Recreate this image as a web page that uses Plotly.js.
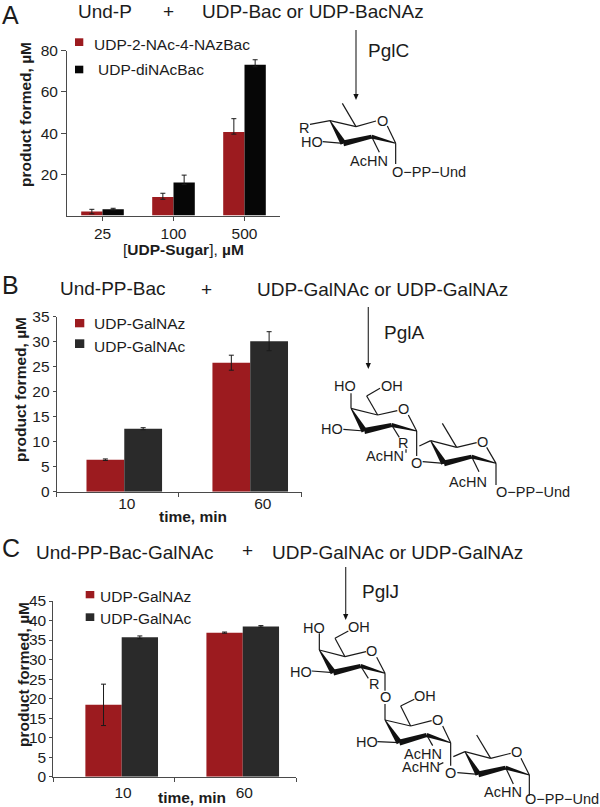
<!DOCTYPE html>
<html><head><meta charset="utf-8">
<script src="https://cdn.plot.ly/plotly-3.0.1.min.js"></script>
<style>html,body{margin:0;padding:0;background:#fff}#c{width:600px;height:807px}</style>
</head><body><div id="c"></div>
<script>
// ---------- data ----------
const sugarCats = ['25','100','500'];
const azBac = [1.9, 9.0, 40.5];
const azBacUp = [1.1, 1.8, 6.5];
const azBacDown = [1.1, 1.1, 1.0];
const acBac = [3.0, 16.0, 73.2];
const acBacUp = [0.5, 3.6, 2.4];
const acBacDown = [0.3, 1.0, 1.0];

const timeCats = ['10','60'];
const timeIdx = [0, 1];
const pglAAz = [6.4, 25.8];
const pglAAzErr = [0.15, 1.5];
const pglAAc = [12.6, 30.1];
const pglAAcErr = [0.2, 1.9];

const pglJAz = [18.4, 36.9];
const pglJAzErr = [5.3, 0.15];
const pglJAc = [35.7, 38.5];
const pglJAcErr = [0.35, 0.2];

const RED = '#9c1b1f', BLK = '#060606', DRK = '#2a2a2a', TXT = '#1c1c1c', AX = '#4a4a4a';
const FONT = '"Liberation Sans", Arial, sans-serif';

// ---------- helpers (page pixels -> paper) ----------
const W = 600, H = 807;
const px = x => x / W, py = y => 1 - y / H;
const shapes = [], annotations = [];
function text(t, x, y, size, opt) {
  opt = opt || {};
  annotations.push({text: t, x: px(x), y: py(y), xref:'paper', yref:'paper', showarrow:false,
    xanchor: opt.anchor || 'center', yanchor:'middle', textangle: opt.angle || 0, borderpad:0, borderwidth:0,
    font:{family:FONT, size:size, color: opt.color || TXT}});
}
function line(x0,y0,x1,y1,w,c) {
  shapes.push({type:'line', xref:'paper', yref:'paper', x0:px(x0), y0:py(y0), x1:px(x1), y1:py(y1),
    line:{color:c||'#1a1a1a', width:w||1.2}});
}
function poly(pts,c) {
  const d = pts.map((p,i)=>(i?'L':'M')+px(p[0]).toFixed(5)+','+py(p[1]).toFixed(5)).join(' ')+' Z';
  shapes.push({type:'path', xref:'paper', yref:'paper', path:d, fillcolor:c||'#111', line:{width:0}});
}
function swatch(x0,y0,x1,y1,c){ poly([[x0,y0],[x1,y0],[x1,y1],[x0,y1]],c); }
function wedge(ax,ay,bx,by,wa,wb) {
  const dx=bx-ax, dy=by-ay, L=Math.hypot(dx,dy), nx=-dy/L, ny=dx/L;
  poly([[ax+nx*wa/2,ay+ny*wa/2],[bx+nx*wb/2,by+ny*wb/2],[bx-nx*wb/2,by-ny*wb/2],[ax-nx*wa/2,ay-ny*wa/2]]);
}
function arrow(x,y0,y1){
  line(x,y0,x,y1-4,1.2,'#333');
  poly([[x-2.6,y1-6],[x+2.6,y1-6],[x,y1]],'#111');
}
// draw a chemical structure; coordinates are in a 3x local frame
function structure(ox,oy,bonds,wedges,labels){
  const X=z=>ox+z/3, Y=z=>oy+z/3;
  bonds.forEach(b=>line(X(b[0]),Y(b[1]),X(b[2]),Y(b[3]),1.2));
  wedges.forEach(b=>wedge(X(b[0]),Y(b[1]),X(b[2]),Y(b[3]),b[4],b[5]));
  labels.forEach(l=>text(l[0],X(l[1]),Y(l[2]),l[3]||14.5));
}

// ---------- panel headers ----------
text('A',2,15,25,{anchor:'left'});
text('Und-P',78,11,19,{anchor:'left'});
text('+',168,11,19);
text('UDP-Bac or UDP-BacNAz',201.7,11,19,{anchor:'left'});
arrow(356,30,100);
text('PglC',368,50,19,{anchor:'left'});

text('B',2,285,25,{anchor:'left'});
text('Und-PP-Bac',60,288,19,{anchor:'left'});
text('+',207,289,19);
text('UDP-GalNAc or UDP-GalNAz',256.7,289,19,{anchor:'left'});
arrow(368.3,307,369);
text('PglA',384,332,19,{anchor:'left'});

text('C',2,548,25,{anchor:'left'});
text('Und-PP-Bac-GalNAc',36,552,19,{anchor:'left'});
text('+',247,550,19);
text('UDP-GalNAc or UDP-GalNAz',271.7,552,19,{anchor:'left'});
arrow(345.7,567,620);
text('PglJ',361.7,591,19,{anchor:'left'});

// ---------- legends ----------
swatch(75,38.3,83.3,46,RED); text('UDP-2-NAc-4-NAzBac',94.3,45,15.5,{anchor:'left'});
swatch(75,65.7,83.3,73.3,BLK); text('UDP-diNAcBac',98.3,69.3,15.5,{anchor:'left'});
swatch(75,319,84.3,327.3,RED); text('UDP-GalNAz',94,324,15.5,{anchor:'left'});
swatch(75,339.3,84.3,348,DRK); text('UDP-GalNAc',94,346,15.5,{anchor:'left'});
swatch(85.7,591,94.3,598.3,RED); text('UDP-GalNAz',100,596.7,15.5,{anchor:'left'});
swatch(85.7,613.3,94.3,621,DRK); text('UDP-GalNAc',100,618.3,15.5,{anchor:'left'});

// ---------- axis titles ----------
text('<b>product formed, µM</b>',25,115,15.5,{angle:-90});
text('[<b>UDP-Sugar</b>], <b>µM</b>',183,249,15.5);
text('<b>product formed, µM</b>',20,390,15.5,{angle:-90});
text('<b>time, min</b>',192.7,516.7,15.5);
text('<b>product formed, µM</b>',23,675,15.5,{angle:-90});
text('<b>time, min</b>',192,797,15.5);

// ---------- structures ----------
structure(280,90,
 [[187,40,228,110],[228,110,288,93],[322,108,347,160],[228,110,150,92],[90,103,150,92],[128,155,190,160],
  [275,140,298,187],[347,160,347,222]],
 [[150,92,190,160,1,6],[190,160,275,140,6,4],[275,140,347,160,4,1]],
 [['R',72,115],['HO',95,155],['O',308,93],['AcHN',268,213],['O−PP−Und',447,246]]);

structure(300,330,
 [[153,190,153,235],[200,198,233,255],[200,198,240,175],[153,235,233,255],[233,255,292,242],[325,255,350,303],
  [130,298,193,303],[275,285,298,322],[318,358,318,368],[350,303,350,378],
  [427,280,470,352],[392,332,470,352],[470,352,530,338],[560,352,588,400],[358,348,392,332],[368,395,432,400],
  [515,380,537,425],[588,400,588,465]],
 [[153,235,193,303,1,6],[193,303,275,285,6,4],[275,285,350,303,4,1],
  [392,332,432,400,1,6],[432,400,515,380,6,4],[515,380,588,400,4,1]],
 [['HO',135,168],['OH',277,168],['O',310,238],['HO',95,298],['R',310,340],['AcHN',255,378],['O',350,398],
  ['O',547,335],['AcHN',505,456],['O−PP−Und',698,485]]);

structure(280,600,
 [[118,100,118,150],[165,115,195,170],[165,115,205,93],[118,150,195,170],[195,170,258,155],[290,172,315,220],
  [95,213,160,218],[242,198,265,235],[315,220,315,272],[315,312,315,360],
  [315,360,392,378],[362,318,392,378],[362,318,403,298],[392,378,455,362],[488,378,512,428],[292,425,358,428],
  [440,405,458,437],[512,428,512,497],[475,495,490,488],
  [590,405,632,475],[555,455,632,475],[632,475,692,460],[723,475,748,525],[520,470,555,455],[532,518,595,523],
  [677,503,700,552],[748,525,748,587]],
 [[118,150,160,218,1,6],[160,218,242,198,6,4],[242,198,315,220,4,1],
  [315,360,358,428,1,6],[358,428,440,405,6,4],[440,405,512,428,4,1],
  [555,455,595,523,1,6],[595,523,677,503,6,4],[677,503,748,525,4,1]],
 [['HO',102,85],['OH',238,82],['O',275,153],['HO',62,215],['R',283,253],['O',315,292],
  ['OH',435,288],['O',473,360],['HO',260,425],['AcHN',430,463],['AcHN',422,500],['O',512,518],
  ['O',710,457],['AcHN',668,577],['O−PP−Und',845,598]]);

// ---------- traces ----------
const bar = (name,x,y,color,up,down,xa,ya,cap) => ({type:'bar', name, x, y, xaxis:xa, yaxis:ya, showlegend:false,
  marker:{color, line:{width:0}},
  error_y:{type:'data', symmetric:false, array:up, arrayminus:down, color:'#1a1a1a', thickness:1, width:cap}});
const traces = [
  bar('UDP-2-NAc-4-NAzBac',sugarCats,azBac,RED,azBacUp,azBacDown,'x','y',2.5),
  bar('UDP-diNAcBac',sugarCats,acBac,BLK,acBacUp,acBacDown,'x','y',2.5),
  bar('UDP-GalNAz',timeIdx,pglAAz,RED,pglAAzErr,pglAAzErr,'x2','y2',2.5),
  bar('UDP-GalNAc',timeIdx,pglAAc,DRK,pglAAcErr,pglAAcErr,'x2','y2',2.5),
  bar('UDP-GalNAz',timeIdx,pglJAz,RED,pglJAzErr,pglJAzErr,'x3','y3',2.5),
  bar('UDP-GalNAc',timeIdx,pglJAc,DRK,pglJAcErr,pglJAcErr,'x3','y3',2.5)
];

// ---------- axes ----------
const axBase = {showgrid:false, zeroline:false, showline:true, linecolor:AX, linewidth:1, ticks:'outside',
  tickcolor:AX, tickwidth:1, tickfont:{family:FONT,size:15.5,color:TXT}, fixedrange:true};
const yax = (top,bottom,range,vals,anchor,len) => Object.assign({},axBase,{domain:[py(bottom),py(top)], range,
  tickmode:'array', tickvals:vals, ticktext:vals.map(String), anchor, ticklen:len});
const xdom = (l,r)=>[px(l),px(r)];

const layout = {
  width:W, height:H, margin:{l:0,r:0,t:0,b:0}, paper_bgcolor:'#fff', plot_bgcolor:'rgba(0,0,0,0)',
  showlegend:false, barmode:'group', bargap:0.4, bargroupgap:0,
  shapes, annotations,
  xaxis:Object.assign({},axBase,{type:'category', domain:xdom(67,280), anchor:'y', ticklen:4, categoryorder:'array', categoryarray:sugarCats, ticklabelstandoff:0}),
  yaxis:yax(50.7,215.5,[0,80],[20,40,60,80],'x',5),
  xaxis2:Object.assign({},axBase,{type:'linear', domain:xdom(56.7,301.7), anchor:'y2', range:[-0.5365,1.4087],
    tickmode:'array', tickvals:[0.02,1.10], ticktext:timeCats, ticklen:0, ticklabelstandoff:-2,
    minor:{tickmode:'array', tickvals:[-0.5365,0.4333,1.4087], ticks:'outside', ticklen:4, tickcolor:AX, tickwidth:1, showgrid:false}}),
  yaxis2:yax(316.7,491.7,[0,35],[0,5,10,15,20,25,30,35],'x2',3),
  xaxis3:Object.assign({},axBase,{type:'linear', domain:xdom(53.3,296), anchor:'y3', range:[-0.565,1.44],
    tickmode:'array', tickvals:[0.011,1.013], ticktext:timeCats, ticklen:0, ticklabelstandoff:2,
    minor:{tickmode:'array', tickvals:[-0.565,0.44,1.44], ticks:'outside', ticklen:4, tickcolor:AX, tickwidth:1, showgrid:false}}),
  yaxis3:yax(601,776.7,[0,45],[0,5,10,15,20,25,30,35,40,45],'x3',3)
};
Plotly.newPlot('c',traces,layout,{staticPlot:true,displayModeBar:false});
</script></body></html>
